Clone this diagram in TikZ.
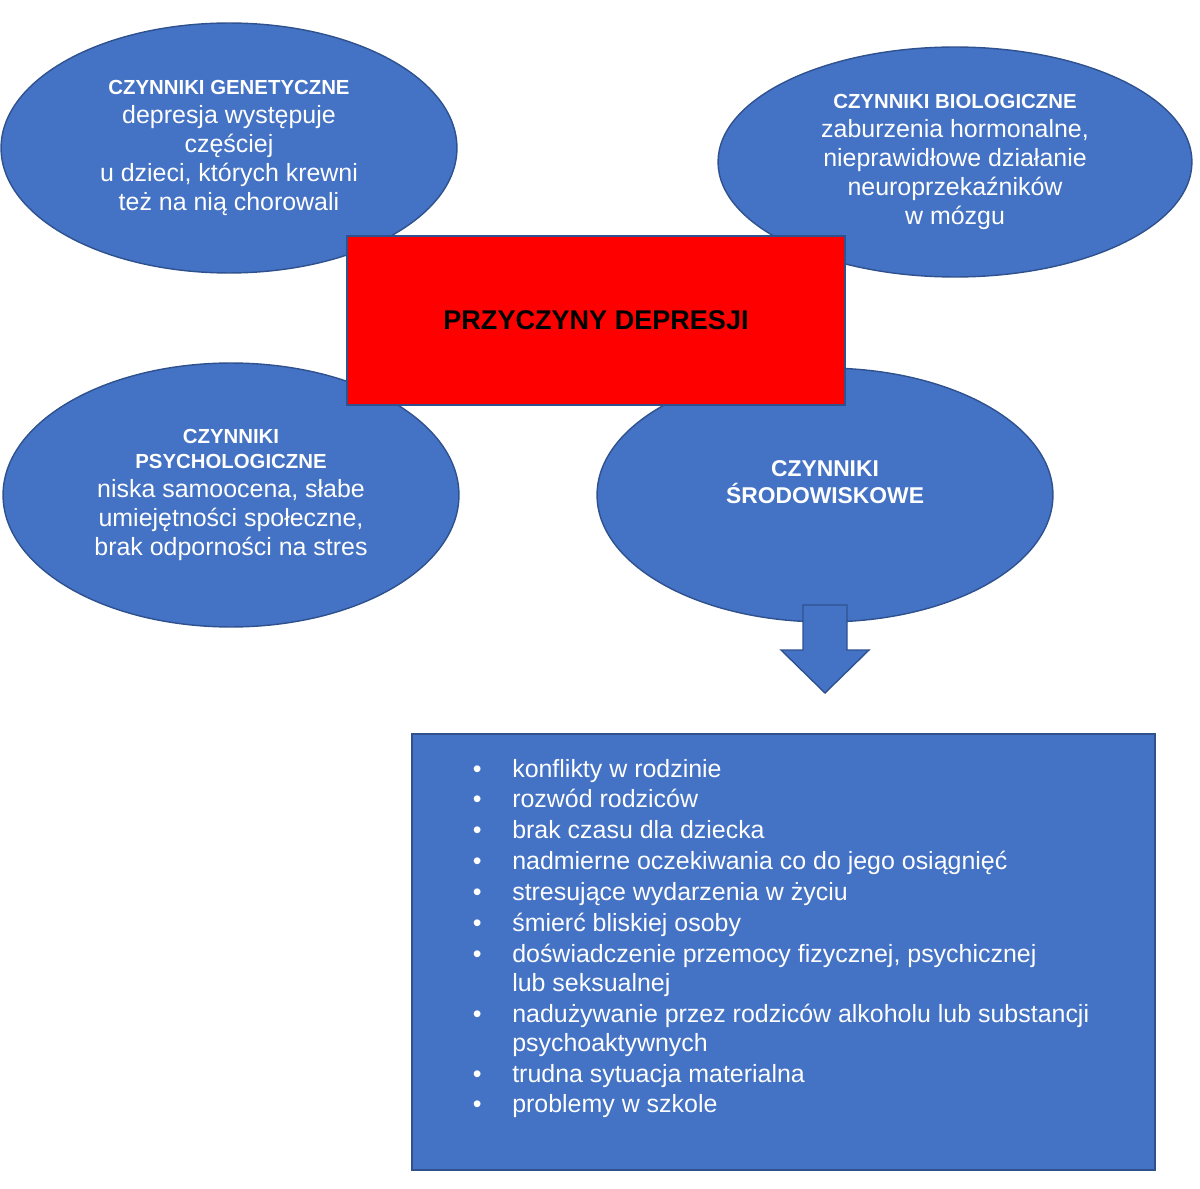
\documentclass[tikz,border=0pt]{standalone}
\usepackage{fontspec}
\setmainfont{Liberation Sans}
\usetikzlibrary{shapes.geometric,positioning}
\definecolor{ppblue}{HTML}{4472C4}
\definecolor{ppedge}{HTML}{2F528F}
\newcommand{\headfont}{\fontsize{11.6}{14.2}\selectfont\bfseries}
\newcommand{\bodyfont}{\fontsize{14.2}{16.4}\selectfont}
\newcommand{\listfont}{\fontsize{14.2}{17.6}\selectfont}
\tikzset{
    factor/.style={ellipse, draw=ppedge, fill=ppblue, line width=0.8pt, text=white, align=center, inner sep=0pt, font=\bodyfont},
    cause/.style={rectangle, draw=ppedge, fill=red, line width=0.8pt, minimum width=9.96cm, minimum height=3.38cm, font=\fontsize{15.4}{18}\selectfont\bfseries},
    listbox/.style={rectangle, draw=ppedge, fill=ppblue, line width=0.8pt, minimum width=14.86cm, minimum height=8.72cm},
    blockarrow/.style={draw=ppedge, fill=ppblue, line width=0.8pt}
}

\begin{document}
\begin{tikzpicture}[x=0.02cm, y=-0.02cm]
    \useasboundingbox (0,0) rectangle (1200,1189);

    % Nodes
    \node[factor, minimum width=9.12cm, minimum height=5cm] (gen) at (229,148)
        {{\headfont CZYNNIKI GENETYCZNE}\\depresja występuje\\częściej\\u dzieci, których krewni\\też na nią chorowali};
    \node[factor, minimum width=9.48cm, minimum height=4.6cm] (bio) at (955,162)
        {{\headfont CZYNNIKI BIOLOGICZNE}\\zaburzenia hormonalne,\\nieprawidłowe działanie\\neuroprzekaźników\\w mózgu};
    \node[factor, minimum width=9.12cm, minimum height=5.28cm] (psy) at (231,495)
        {{\headfont CZYNNIKI}\\[-2.3pt]{\headfont PSYCHOLOGICZNE}\\niska samoocena, słabe\\umiejętności społeczne,\\brak odporności na stres};
    \node[factor, minimum width=9.12cm, minimum height=5.08cm] (env) at (825,495) {};
    \node[text=white, align=center, font=\fontsize{13}{15.3}\selectfont\bfseries] (envtext) at (825,482) {CZYNNIKI\\ŚRODOWISKOWE};

    % arrow
    \draw[blockarrow] (803,605) -- (847,605) -- (847,650) -- (869,650) -- (825,693) -- (781,650) -- (803,650) -- cycle;

    % list
    \node[listbox] (box) at (783.5,952) {};
    \node[anchor=base west, inner sep=0pt, text=white, font=\listfont] (items) at (472.6,777)
        {\begin{tabular}[t]{@{}l@{\hspace{0.612cm}}l@{}}
        • & konflikty w rodzinie\\
        • & rozwód rodziców\\
        • & brak czasu dla dziecka\\
        • & nadmierne oczekiwania co do jego osiągnięć\\
        • & stresujące wydarzenia w życiu\\
        • & śmierć bliskiej osoby\\
        • & doświadczenie przemocy fizycznej, psychicznej\\[-1.2pt]
          & lub seksualnej\\
        • & nadużywanie przez rodziców alkoholu lub substancji\\[-1.2pt]
          & psychoaktywnych\\
        • & trudna sytuacja materialna\\
        • & problemy w szkole
        \end{tabular}};

    % main box
    \node[cause] (cause) at (596,320.5) {PRZYCZYNY DEPRESJI};
\end{tikzpicture}
\end{document}
